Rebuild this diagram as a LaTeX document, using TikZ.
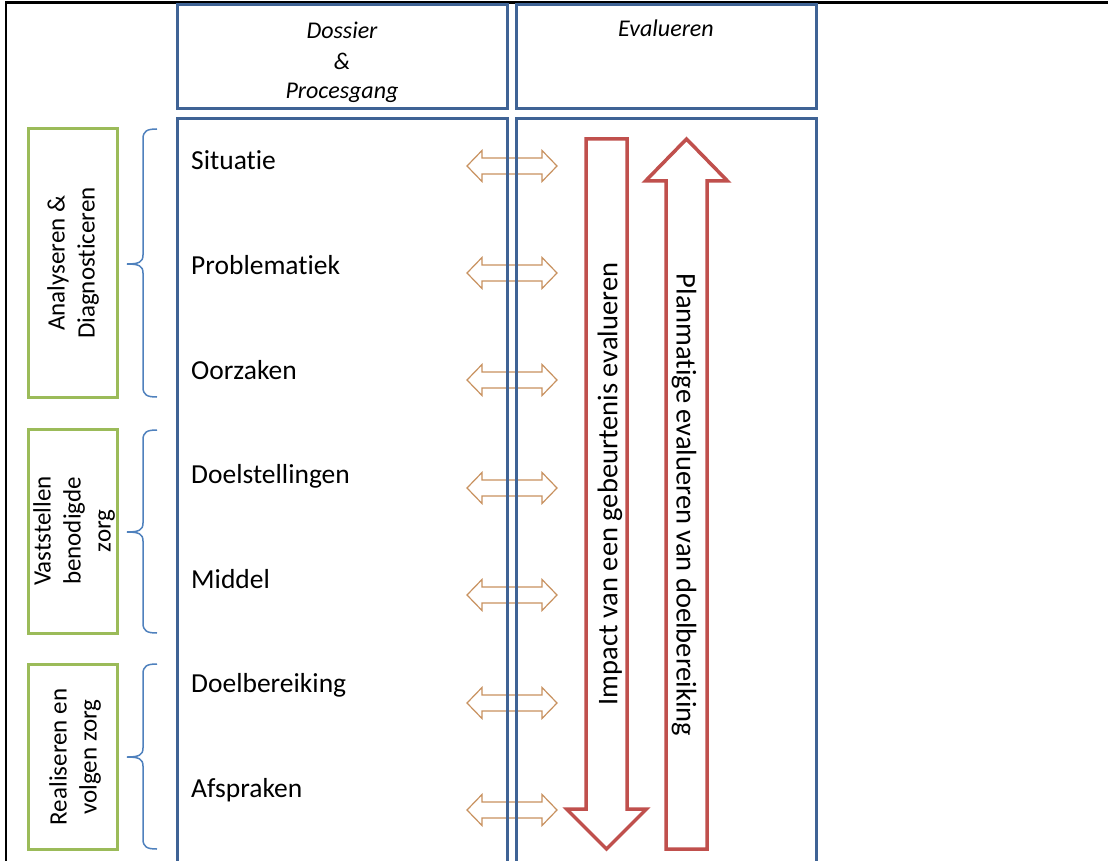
\documentclass[tikz,border=0pt]{standalone}
\usepackage{fontspec}
\setmainfont{Carlito}[Ligatures={NoCommon}]
\definecolor{boxblue}{HTML}{3F6395}
\definecolor{braceblue}{HTML}{4F81BD}
\definecolor{grn}{HTML}{9BBB59}
\definecolor{redc}{HTML}{C0504D}
\definecolor{tan}{HTML}{C8915F}
\newcommand\mybrace[3]{%
  \draw[bracestyle] (157,#1) .. controls (147,#1) and (143,{#1+2}) .. (143,{#1+10})
    -- (143,{#3-9}) .. controls (143,{#3-2}) and (139,#3) .. (127,#3)
    .. controls (139,#3) and (143,{#3+2}) .. (143,{#3+9})
    -- (143,{#2-10}) .. controls (143,{#2-2}) and (147,#2) .. (157,#2);}
\begin{document}
\begin{tikzpicture}[x=1pt,y=-1pt,
  boxline/.style={draw=boxblue,line width=3pt},
  greenbox/.style={draw=grn,line width=3pt},
  bracestyle/.style={draw=braceblue,line width=1.5pt},
  redarrow/.style={draw=redc,line width=3.5pt,fill=white,line join=miter},
  itemtext/.style={anchor=base west,inner sep=0pt,font=\fontsize{27.5}{33}\selectfont},
  headtext/.style={anchor=base,inner sep=0pt,font=\fontsize{24}{29}\selectfont\itshape},
  sidetext/.style={rotate=90,align=center,inner sep=0pt,font=\fontsize{25}{30}\selectfont},
  arrowtext/.style={inner sep=0pt,font=\fontsize{28.5}{34}\selectfont},
  dbl/.pic={\draw[tan,line width=1.2pt,line join=miter]
     (-45,0) -- (-30,-15.5) -- (-30,-8) -- (30,-8) -- (30,-15.5) -- (45,0)
     -- (30,15.5) -- (30,8) -- (-30,8) -- (-30,15.5) -- cycle;}
]
\useasboundingbox (0,0) rectangle (1108,861);
\fill[white] (0,0) rectangle (1108,861);
% outer black frame
\draw[black,line width=2.5pt] (6,861) -- (6,2.5) -- (1108,2.5);

% orange double arrows (under the blue columns)
\foreach \yy in {166,273,380,488,595,703,810}
  \pic at (512,\yy) {dbl};

% header boxes
\draw[boxline] (177,5) rectangle (507,109);
\draw[boxline] (516,5) rectangle (816,109);
% body columns (open at the bottom)
\draw[boxline] (177,861) -- (177,119) -- (507,119) -- (507,861);
\draw[boxline] (516,861) -- (516,119) -- (816,119) -- (816,861);

% header texts
\node[headtext] (h1) at (342,39) {Dossier};
\node[headtext] (h2) at (342,70) {\&};
\node[headtext] (h3) at (342,99) {Procesgang};
\node[headtext] (h4) at (666,37) {Evalueren};

% items
\node[itemtext] (i1) at (191,170) {Situatie};
\node[itemtext] (i2) at (191,274.5) {Problematiek};
\node[itemtext] (i3) at (191,379) {Oorzaken};
\node[itemtext] (i4) at (191,483.5) {Doelstellingen};
\node[itemtext] (i5) at (191,588) {Middel};
\node[itemtext] (i6) at (191,692.5) {Doelbereiking};
\node[itemtext] (i7) at (191,797) {Afspraken};

% green boxes
\draw[greenbox] (28,129) rectangle (117,397);
\draw[greenbox] (28,429) rectangle (117,633);
\draw[greenbox] (28,664) rectangle (117,849);
\node[sidetext] (g1) at (73,263) {Analyseren \&\\Diagnosticeren};
\node[sidetext] (g2) at (74,531) {Vaststellen\\benodigde\\zorg};
\node[sidetext] (g3) at (75,757) {Realiseren en\\volgen zorg};

% braces
\mybrace{129}{397}{264}
\mybrace{430}{633}{532}
\mybrace{664}{849}{757}

% red arrows
\draw[redarrow] (586,139) -- (627,139) -- (627,809) -- (646.5,809) -- (606.5,849)
  -- (566.5,809) -- (586,809) -- cycle;
\draw[redarrow] (686.5,139) -- (727.5,181) -- (707,181) -- (707,849) -- (666,849)
  -- (666,181) -- (645.5,181) -- cycle;
\node[arrowtext,rotate=90] (t1) at (610,484) {Impact van een gebeurtenis evalueren};
\node[arrowtext,rotate=-90] (t2) at (684,505) {Planmatige evalueren van doelbereiking};
\end{tikzpicture}
\end{document}
